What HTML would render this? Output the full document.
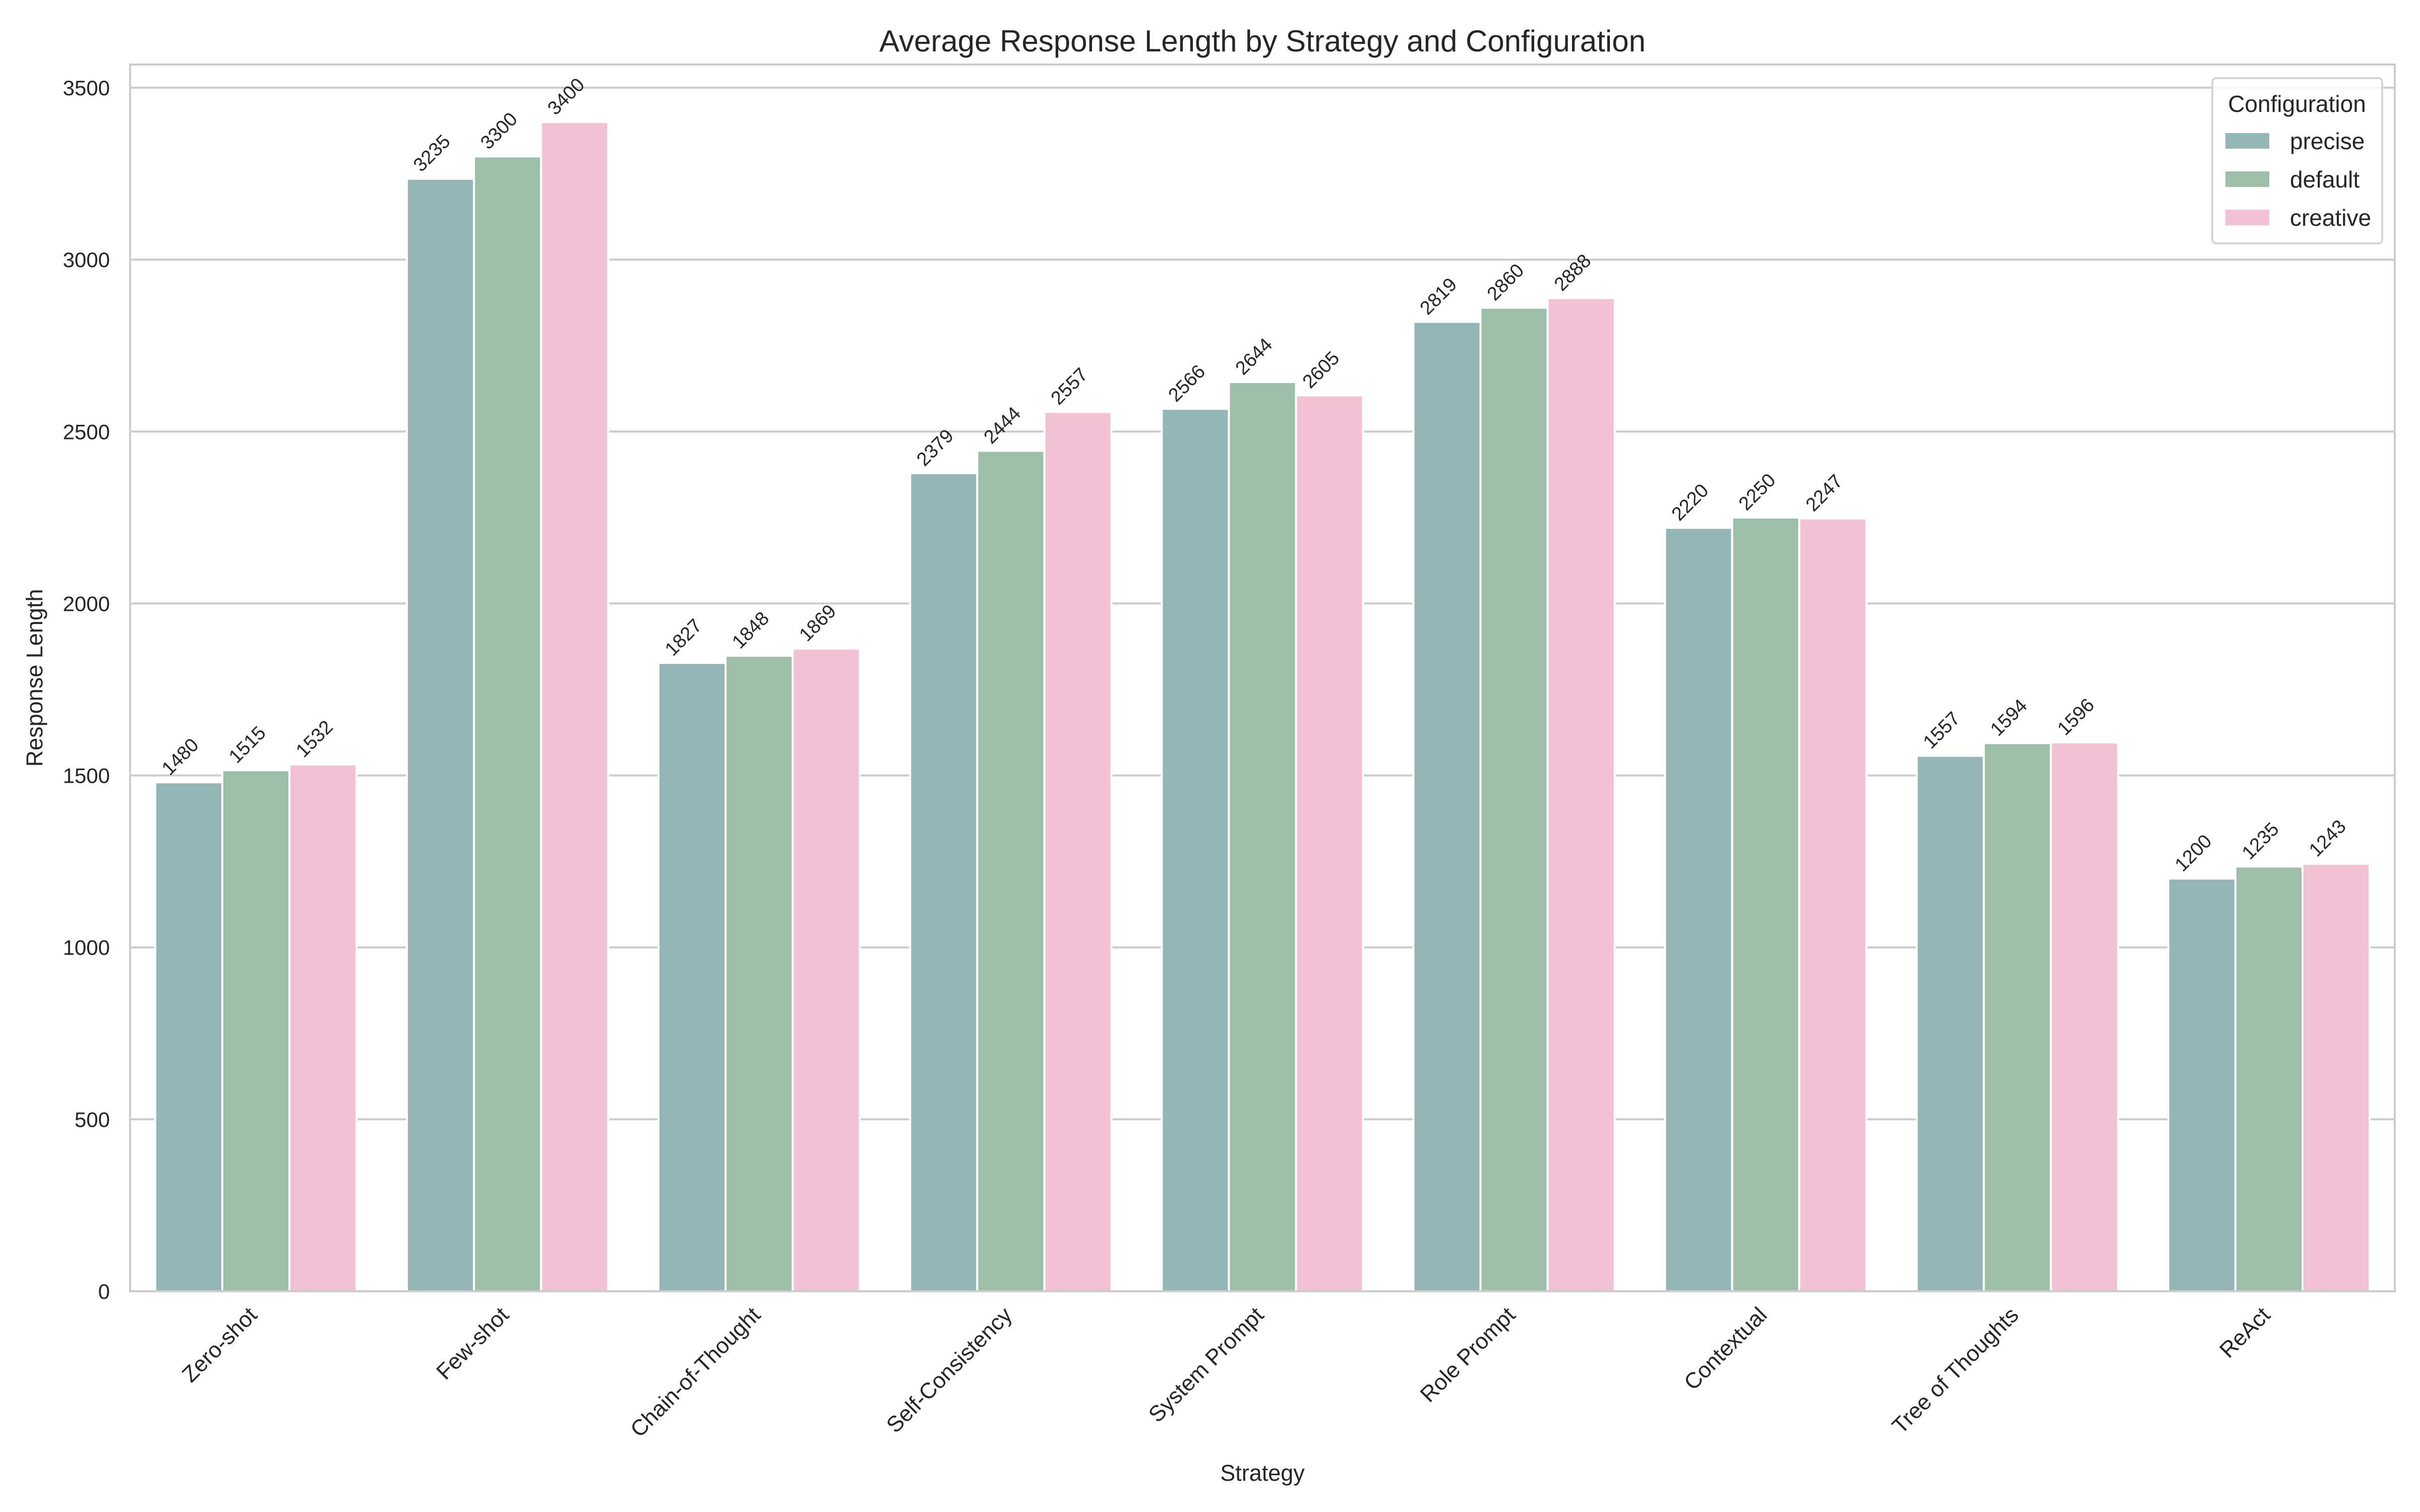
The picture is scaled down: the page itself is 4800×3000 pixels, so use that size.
<!DOCTYPE html>
<html><head><meta charset="utf-8"><style>
html,body{margin:0;padding:0;background:#fff}
svg{display:block;font-family:"Liberation Sans",Arial,sans-serif}
</style></head><body>
<svg id="chart" width="4800" height="3000" viewBox="0 0 4800 3000">
<rect width="4800" height="3000" fill="#fff"/>
<text x="2504" y="102" font-size="60" text-anchor="middle" fill="#262626">Average Response Length by Strategy and Configuration</text>
<text transform="translate(84,1345) rotate(-90)" font-size="45" text-anchor="middle" fill="#262626">Response Length</text>
<text x="2504" y="2938" font-size="45" text-anchor="middle" fill="#262626">Strategy</text>
<g id="grid"></g><g id="bars"></g><g id="labels"></g><g id="ticks"></g>
<rect x="258" y="128" width="4492" height="2434" fill="none" stroke="#cccccc" stroke-width="4"/>
<g>
<rect x="4388" y="155" width="337" height="328" rx="8" fill="#fff" fill-opacity="0.8" stroke="#d5d5d5" stroke-width="4"/>
<text x="4556" y="222" font-size="46" text-anchor="middle" fill="#262626">Configuration</text>
<g id="legend-items"></g>
</g>
</svg>
<script>
const categories = ["Zero-shot","Few-shot","Chain-of-Thought","Self-Consistency","System Prompt","Role Prompt","Contextual","Tree of Thoughts","ReAct"];
const seriesNames = ["precise","default","creative"];
const precise = [1480,3235,1827,2379,2566,2819,2220,1557,1200];
const defaultVals = [1515,3300,1848,2444,2644,2860,2250,1594,1235];
const creative = [1532,3400,1869,2557,2605,2888,2247,1596,1243];
const yTicks = [0,500,1000,1500,2000,2500,3000,3500];
const colors = ["#93b5b6","#9dbfa9","#f2c1d4"];
const series = [precise, defaultVals, creative];
const NS = "http://www.w3.org/2000/svg";
const X0 = 258, X1 = 4750, Y0 = 2562, Y1 = 128;
const yScale = v => Y0 - v * (2562 - 174) / 3500;
const band = (X1 - X0) / categories.length;
const xCenter = i => X0 + band * (i + 0.5);
const barW = band * 0.8 / 3;
function mk(tag, attrs, parent) { const e = document.createElementNS(NS, tag); for (const k in attrs) e.setAttribute(k, attrs[k]); parent.appendChild(e); return e; }
const grid = document.getElementById('grid'), bars = document.getElementById('bars'), labels = document.getElementById('labels'), ticks = document.getElementById('ticks');
yTicks.forEach(t => {
  const y = yScale(t);
  const l = mk('line', {x1: X0, x2: X1, y1: y, y2: y, stroke: '#cccccc', 'stroke-width': 4}, grid);
  
  
  const tx = mk('text', {x: 218, y: y + 15, 'font-size': 42, 'text-anchor': 'end', fill: '#262626'}, ticks);
  tx.textContent = t;
  
  
});
categories.forEach((c, i) => {
  const cx = xCenter(i);
  series.forEach((s, j) => {
    const x = cx - 1.5 * barW + j * barW;
    const y = yScale(s[i]);
    const r = mk('rect', {x: x, y: y, width: barW, height: Y0 - y, fill: colors[j], stroke: '#fff', 'stroke-width': 4}, bars);
    
    
    const bx = x + barW / 2 - 38, by = y - 12;
    const t = mk('text', {x: bx, y: by, 'font-size': 38, fill: '#262626', transform: 'rotate(-45 ' + bx + ' ' + by + ')'}, labels);
    t.textContent = s[i];
    
    
  });
  const lx = cx + 5, ly = 2612;
  const t = mk('text', {x: lx, y: ly, 'font-size': 44, 'text-anchor': 'end', fill: '#262626', transform: 'rotate(-45 ' + lx + ' ' + ly + ')'}, ticks);
  t.textContent = c;
  
  
});
const li = document.getElementById('legend-items');
seriesNames.forEach((n, j) => {
  const y = 264 + j * 76;
  const r = mk('rect', {x: 4414, y: y, width: 87, height: 31, fill: colors[j]}, li);
  
  
  const t = mk('text', {x: 4542, y: y + 32, 'font-size': 46, fill: '#262626'}, li);
  t.textContent = n;
  
  
});
</script>
</body></html>
